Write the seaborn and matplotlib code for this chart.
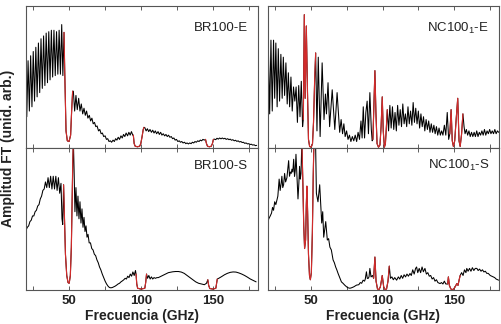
import numpy as np
import pandas as pd
import matplotlib
matplotlib.use("Agg")
import matplotlib.pyplot as plt
import seaborn as sns

# espectros leidos a ojo de la figura (frecuencia GHz, amplitud arb.)
br_e = [
    (20.5, 0.22), (21.4, 0.615), (22.3, 0.26), (23.2, 0.65), (24.1, 0.29), (25.0, 0.68),
    (25.9, 0.33), (26.8, 0.71), (27.7, 0.36), (28.6, 0.74), (29.5, 0.39), (30.4, 0.77),
    (31.3, 0.42), (32.2, 0.79), (33.1, 0.44), (34.0, 0.81), (34.9, 0.46), (35.8, 0.82),
    (36.7, 0.48), (37.6, 0.83), (38.5, 0.50), (39.4, 0.83), (40.3, 0.51), (41.2, 0.82),
    (42.1, 0.52), (43.0, 0.83), (43.9, 0.52), (44.8, 0.87), (45.6, 0.51), (46.4, 0.815),
    (46.9, 0.54), (47.8, 0.12), (48.7, 0.05), (49.9, 0.045), (51.0, 0.09), (51.7, 0.26),
    (52.4, 0.40), (52.9, 0.40), (53.8, 0.26), (54.7, 0.37), (55.6, 0.27), (56.6, 0.35),
    (57.5, 0.26), (58.4, 0.31), (59.4, 0.24), (60.3, 0.28), (61.2, 0.23), (62.1, 0.26),
    (63.0, 0.21), (64.0, 0.23), (64.9, 0.19), (65.8, 0.21), (66.7, 0.17), (67.6, 0.18),
    (68.5, 0.15), (69.4, 0.155), (70.4, 0.12), (71.3, 0.13), (72.2, 0.10), (73.1, 0.105),
    (74.0, 0.08), (75.0, 0.085), (75.9, 0.06), (76.8, 0.065), (77.7, 0.045), (78.6, 0.05),
    (79.5, 0.04), (80.5, 0.055), (81.4, 0.045), (82.3, 0.065), (83.2, 0.055), (84.1, 0.075),
    (85.0, 0.06), (86.0, 0.085), (86.9, 0.07), (87.8, 0.095), (88.7, 0.08), (89.6, 0.105),
    (90.6, 0.085), (91.5, 0.11), (92.4, 0.09), (93.3, 0.115), (94.2, 0.09), (94.6, 0.09),
    (95.2, 0.03), (95.9, 0.012), (97.5, 0.008), (99.0, 0.012), (99.8, 0.03), (100.7, 0.08),
    (101.5, 0.13), (102.0, 0.145), (102.6, 0.143), (103.5, 0.12), (104.4, 0.135), (105.3, 0.115),
    (106.2, 0.13), (107.2, 0.11), (108.1, 0.125), (109.0, 0.105), (109.9, 0.12), (110.8, 0.10),
    (111.8, 0.115), (112.7, 0.095), (113.6, 0.11), (114.5, 0.09), (115.4, 0.10), (116.4, 0.085),
    (117.3, 0.095), (118.2, 0.08), (119.1, 0.09), (120.0, 0.075), (121.0, 0.08), (121.9, 0.065),
    (122.8, 0.07), (123.7, 0.055), (124.6, 0.06), (125.6, 0.045), (126.5, 0.05), (127.4, 0.04),
    (128.3, 0.045), (129.2, 0.035), (130.2, 0.04), (131.1, 0.03), (132.0, 0.035), (132.9, 0.028),
    (133.8, 0.035), (134.8, 0.03), (135.7, 0.04), (136.6, 0.035), (137.5, 0.045), (138.4, 0.04),
    (139.4, 0.05), (140.3, 0.045), (141.2, 0.055), (142.1, 0.05), (143.0, 0.06), (144.0, 0.055),
    (144.8, 0.06), (145.5, 0.03), (146.2, 0.012), (147.5, 0.008), (148.8, 0.012), (149.6, 0.03),
    (150.3, 0.06), (151.0, 0.062), (151.9, 0.058), (152.8, 0.068), (153.7, 0.062), (154.6, 0.07),
    (155.6, 0.064), (156.5, 0.07), (157.4, 0.064), (158.3, 0.068), (159.2, 0.06), (160.2, 0.065),
    (161.1, 0.058), (162.0, 0.062), (162.9, 0.054), (163.8, 0.058), (164.8, 0.05), (165.7, 0.054),
    (166.6, 0.046), (167.5, 0.05), (168.4, 0.042), (169.4, 0.045), (170.3, 0.038), (171.2, 0.04),
    (172.1, 0.032), (173.0, 0.035), (174.0, 0.028), (174.9, 0.03), (175.8, 0.024), (176.7, 0.026),
    (177.6, 0.02), (178.6, 0.022), (179.5, 0.016), (180.4, 0.018),
]
br_e_red = [(46.4, 52.4), (94.6, 102.0), (144.8, 150.3)]

br_s = [
    (20.0, 0.42), (20.9, 0.44), (21.8, 0.45), (22.7, 0.48), (23.6, 0.49), (24.5, 0.52),
    (25.4, 0.52), (26.3, 0.55), (27.2, 0.56), (28.1, 0.59), (29.0, 0.60), (29.9, 0.64),
    (30.8, 0.66), (31.7, 0.70), (32.6, 0.71), (33.5, 0.76), (34.4, 0.72), (35.3, 0.79),
    (36.2, 0.72), (37.1, 0.80), (38.0, 0.71), (38.9, 0.80), (39.8, 0.71), (40.7, 0.80),
    (41.6, 0.70), (42.5, 0.79), (43.4, 0.68), (44.3, 0.75), (45.0, 0.50), (45.5, 0.46),
    (46.1, 0.74), (46.6, 0.55), (47.4, 0.25), (48.3, 0.10), (49.2, 0.05), (50.0, 0.045),
    (50.8, 0.10), (51.5, 0.30), (52.0, 0.60), (52.5, 0.90), (52.9, 1.05), (53.4, 0.85),
    (54.0, 0.55), (54.7, 0.72), (55.4, 0.52), (56.1, 0.66), (56.8, 0.50), (57.5, 0.62),
    (58.2, 0.47), (58.9, 0.57), (59.6, 0.44), (60.3, 0.51), (61.0, 0.41), (61.7, 0.45),
    (62.4, 0.37), (63.1, 0.39), (63.9, 0.33), (64.8, 0.33), (65.7, 0.29), (66.6, 0.28),
    (67.5, 0.25), (68.4, 0.24), (69.3, 0.21), (70.2, 0.19), (71.1, 0.16), (72.0, 0.14),
    (73.0, 0.11), (74.0, 0.085), (75.0, 0.06), (76.0, 0.04), (77.0, 0.025), (78.0, 0.015),
    (79.0, 0.013), (80.0, 0.015), (81.0, 0.02), (82.0, 0.025), (83.0, 0.032), (84.0, 0.04),
    (85.0, 0.045), (86.0, 0.055), (87.0, 0.062), (88.0, 0.07), (88.9, 0.08), (89.8, 0.075),
    (90.7, 0.095), (91.6, 0.085), (92.5, 0.11), (93.4, 0.095), (94.3, 0.125), (95.2, 0.10),
    (96.1, 0.135), (96.5, 0.11), (97.0, 0.04), (97.6, 0.01), (100.0, 0.004), (102.6, 0.01),
    (103.2, 0.05), (103.8, 0.11), (104.5, 0.08), (105.4, 0.10), (106.3, 0.075), (107.2, 0.09),
    (108.1, 0.075), (109.0, 0.085), (110.0, 0.08), (111.0, 0.085), (112.0, 0.085), (113.0, 0.09),
    (114.0, 0.095), (115.0, 0.10), (116.0, 0.105), (117.0, 0.11), (118.0, 0.115), (119.0, 0.12),
    (120.0, 0.122), (122.0, 0.126), (124.0, 0.128), (126.0, 0.128), (128.0, 0.124), (130.0, 0.115),
    (132.0, 0.10), (134.0, 0.085), (136.0, 0.07), (138.0, 0.055), (140.0, 0.045), (142.0, 0.04),
    (144.0, 0.035), (145.5, 0.045), (146.4, 0.07), (147.0, 0.03), (147.8, 0.008), (150.0, 0.004),
    (152.0, 0.01), (152.6, 0.05), (153.0, 0.075), (154.0, 0.08), (156.0, 0.092), (158.0, 0.105),
    (160.0, 0.115), (162.0, 0.122), (164.0, 0.125), (166.0, 0.124), (168.0, 0.118), (170.0, 0.11),
    (172.0, 0.10), (174.0, 0.088), (176.0, 0.075), (178.0, 0.065), (180.0, 0.055),
]
br_s_red = [(46.1, 52.9), (96.5, 103.8), (146.4, 153.0)]

nc_e = [
    (20.0, 0.25), (20.6, 0.70), (21.5, 0.24), (22.4, 0.76), (23.3, 0.26), (24.2, 0.76),
    (25.0, 0.35), (25.8, 0.74), (26.7, 0.29), (27.5, 0.70), (28.4, 0.33), (29.3, 0.66),
    (30.2, 0.35), (31.0, 0.64), (31.9, 0.37), (32.8, 0.60), (33.7, 0.31), (34.5, 0.53),
    (35.4, 0.29), (36.3, 0.50), (37.2, 0.26), (38.1, 0.43), (39.0, 0.33), (39.9, 0.43),
    (40.8, 0.18), (41.7, 0.44), (42.6, 0.22), (43.5, 0.47), (44.4, 0.15), (44.9, 0.20),
    (45.6, 0.94), (46.2, 0.35), (47.0, 0.86), (47.8, 0.40), (48.5, 0.06), (49.3, 0.01),
    (50.4, 0.005), (51.3, 0.03), (52.0, 0.18), (52.8, 0.48), (53.5, 0.67), (54.4, 0.12),
    (55.3, 0.64), (56.6, 0.08), (58.0, 0.60), (59.3, 0.20), (60.3, 0.38), (61.0, 0.24),
    (62.1, 0.46), (63.2, 0.15), (65.0, 0.41), (66.8, 0.13), (68.4, 0.39), (70.2, 0.11),
    (71.2, 0.20), (72.2, 0.10), (73.1, 0.17), (74.0, 0.08), (75.0, 0.12), (76.0, 0.06),
    (77.0, 0.09), (78.0, 0.045), (79.0, 0.08), (80.0, 0.05), (81.0, 0.09), (82.0, 0.045),
    (83.0, 0.11), (84.0, 0.06), (85.0, 0.19), (85.8, 0.07), (86.6, 0.29), (87.5, 0.07),
    (88.4, 0.25), (89.3, 0.33), (90.2, 0.10), (91.2, 0.39), (92.2, 0.13), (92.8, 0.05),
    (93.3, 0.06), (94.0, 0.30), (94.7, 0.545), (95.4, 0.25), (96.2, 0.03), (97.2, 0.005),
    (98.2, 0.02), (99.0, 0.15), (99.8, 0.36), (100.5, 0.12), (101.3, 0.005), (102.0, 0.03),
    (102.7, 0.15), (103.3, 0.27), (104.2, 0.12), (105.1, 0.30), (106.0, 0.14), (106.9, 0.29),
    (107.8, 0.13), (108.7, 0.25), (109.6, 0.12), (110.5, 0.30), (111.4, 0.16), (112.3, 0.27),
    (113.2, 0.15), (114.1, 0.31), (115.0, 0.17), (115.9, 0.24), (116.8, 0.15), (117.7, 0.29),
    (118.6, 0.17), (119.5, 0.26), (120.4, 0.16), (121.3, 0.32), (122.2, 0.18), (123.1, 0.28),
    (124.0, 0.17), (124.9, 0.26), (125.8, 0.14), (126.7, 0.24), (127.6, 0.15), (128.5, 0.22),
    (129.4, 0.12), (130.3, 0.20), (131.2, 0.13), (132.1, 0.19), (133.0, 0.11), (133.9, 0.17),
    (134.8, 0.11), (135.7, 0.16), (136.6, 0.10), (137.5, 0.15), (138.4, 0.09), (139.3, 0.14),
    (140.2, 0.09), (141.1, 0.12), (142.0, 0.09), (143.0, 0.16), (144.0, 0.09), (145.0, 0.25),
    (146.0, 0.06), (146.8, 0.10), (147.7, 0.27), (148.5, 0.05), (149.3, 0.01), (150.2, 0.05),
    (151.2, 0.20), (152.3, 0.35), (153.2, 0.05), (154.0, 0.01), (155.0, 0.10), (155.9, 0.24),
    (156.7, 0.15), (157.4, 0.10), (158.3, 0.13), (159.2, 0.09), (160.1, 0.12), (161.0, 0.08),
    (161.9, 0.11), (162.8, 0.08), (163.7, 0.11), (164.6, 0.08), (165.5, 0.12), (166.4, 0.08),
    (167.3, 0.11), (168.2, 0.09), (169.1, 0.12), (170.0, 0.09), (170.9, 0.13), (171.8, 0.09),
    (172.7, 0.12), (173.6, 0.10), (174.5, 0.13), (175.4, 0.10), (176.3, 0.12), (177.2, 0.10),
    (178.1, 0.13), (179.0, 0.10), (179.9, 0.12), (180.8, 0.11),
]
nc_e_red = [(44.9, 53.5), (93.3, 103.3), (146.8, 155.9)]

nc_s = [
    (20.0, 0.47), (20.9, 0.50), (21.9, 0.52), (22.8, 0.54), (23.5, 0.58), (24.2, 0.56),
    (25.0, 0.62), (25.8, 0.60), (26.5, 0.63), (27.2, 0.66), (28.1, 0.78), (28.8, 0.70),
    (29.5, 0.75), (30.0, 0.80), (30.6, 0.72), (31.2, 0.74), (31.9, 0.82), (32.6, 0.76),
    (33.5, 0.79), (34.3, 0.87), (34.7, 0.91), (35.3, 0.80), (35.9, 0.83), (36.5, 0.82),
    (37.0, 0.85), (37.6, 0.83), (38.2, 0.92), (38.8, 0.80), (39.3, 0.84), (39.8, 0.955),
    (40.5, 0.80), (41.2, 0.64), (41.8, 0.75), (42.3, 0.87), (42.8, 0.78), (43.3, 0.82),
    (43.9, 1.05), (44.6, 0.75), (45.2, 0.45), (45.8, 0.29), (46.5, 0.35), (47.0, 0.60),
    (47.4, 0.73), (47.9, 0.55), (48.5, 0.25), (49.2, 0.10), (49.8, 0.07), (50.5, 0.12),
    (51.2, 0.40), (51.8, 0.80), (52.3, 1.05), (52.8, 1.10), (53.5, 1.0), (54.0, 0.68),
    (55.1, 0.62), (56.3, 0.74), (57.7, 0.47), (58.4, 0.55), (59.1, 0.37), (60.5, 0.48),
    (61.6, 0.35), (62.5, 0.36), (63.4, 0.30), (64.4, 0.28), (65.6, 0.21), (66.5, 0.19),
    (67.4, 0.16), (68.2, 0.14), (69.1, 0.114), (70.2, 0.085), (71.4, 0.055), (72.5, 0.045),
    (73.7, 0.032), (75.0, 0.02), (76.1, 0.013), (77.3, 0.01), (78.4, 0.013), (80.0, 0.02),
    (81.9, 0.032), (83.5, 0.035), (84.5, 0.05), (85.5, 0.045), (86.5, 0.067), (87.5, 0.06),
    (88.0, 0.075), (88.8, 0.126), (89.4, 0.08), (90.0, 0.079), (90.6, 0.09), (91.2, 0.15),
    (92.0, 0.09), (93.0, 0.10), (93.8, 0.08), (94.7, 0.23), (95.5, 0.06), (96.5, 0.005),
    (97.5, 0.0), (98.5, 0.02), (99.8, 0.10), (100.8, 0.02), (101.8, 0.0), (102.8, 0.005),
    (103.8, 0.06), (104.7, 0.166), (105.5, 0.08), (106.5, 0.09), (107.5, 0.07), (108.5, 0.085),
    (109.8, 0.067), (111.0, 0.09), (112.0, 0.075), (113.0, 0.10), (114.0, 0.08), (115.0, 0.105),
    (116.0, 0.09), (117.0, 0.11), (118.0, 0.095), (119.1, 0.114), (120.0, 0.10), (121.0, 0.14),
    (122.0, 0.11), (123.0, 0.15), (123.7, 0.16), (124.5, 0.12), (125.5, 0.15), (126.5, 0.12),
    (127.5, 0.16), (128.4, 0.126), (129.5, 0.15), (130.5, 0.11), (131.5, 0.12), (132.5, 0.095),
    (133.5, 0.10), (134.5, 0.075), (135.5, 0.085), (136.5, 0.06), (137.5, 0.07), (138.5, 0.05),
    (140.0, 0.043), (141.0, 0.05), (142.0, 0.04), (143.0, 0.06), (144.0, 0.04), (145.3, 0.04),
    (145.8, 0.09), (146.5, 0.03), (147.5, 0.005), (148.5, 0.0), (149.5, 0.005), (150.5, 0.02),
    (151.7, 0.043), (152.5, 0.03), (153.3, 0.07), (154.0, 0.10), (155.0, 0.12), (156.0, 0.10),
    (157.0, 0.14), (158.0, 0.12), (158.6, 0.15), (159.5, 0.13), (160.5, 0.15), (161.5, 0.13),
    (162.5, 0.155), (163.5, 0.135), (164.5, 0.15), (165.6, 0.15), (166.5, 0.135), (167.5, 0.145),
    (168.5, 0.13), (169.5, 0.14), (170.5, 0.125), (171.5, 0.13), (172.5, 0.115), (173.5, 0.115),
    (174.9, 0.10), (176.0, 0.095), (177.0, 0.09), (178.0, 0.085), (179.0, 0.075), (180.7, 0.067),
]
nc_s_red = [(43.9, 52.8), (93.8, 104.7), (145.3, 154.0)]

paneles = [
    ("BR100-E", br_e, br_e_red),
    (r"NC100$_1$-E", nc_e, nc_e_red),
    ("BR100-S", br_s, br_s_red),
    (r"NC100$_1$-S", nc_s, nc_s_red),
]

sns.set_style("ticks")
plt.rcParams["font.family"] = ["Liberation Sans", "DejaVu Sans"]
plt.rcParams["mathtext.fontset"] = "custom"
plt.rcParams["mathtext.rm"] = "Liberation Sans"
plt.rcParams["mathtext.it"] = "Liberation Sans:italic"

fig, axes = plt.subplots(2, 2, figsize=(5.01, 3.24), dpi=100)
plt.subplots_adjust(left=0.052, right=0.996, bottom=0.106, top=0.981, wspace=0.043, hspace=0)

rojo = "#d22b2b"
for i, (ax, (nombre, datos, rojos)) in enumerate(zip(axes.flat, paneles)):
    df = pd.DataFrame(datos, columns=["f", "a"])
    sns.lineplot(data=df, x="f", y="a", ax=ax, color="black", lw=0.75,
                 estimator=None, sort=False)
    for lo, hi in rojos:
        sub = df[(df.f >= lo) & (df.f <= hi)]
        sns.lineplot(data=sub, x="f", y="a", ax=ax, color=rojo, lw=0.85,
                     estimator=None, sort=False)
    ax.set_xlim(20, 181)
    ax.set_ylim(0, 1)
    ax.set_yticks([])
    ax.set_ylabel("")
    ax.set_xticks([50, 100, 150])
    ax.set_xticks([25, 75, 125, 175], minor=True)
    ax.tick_params(axis="x", which="both", direction="in", top=True, bottom=True,
                   length=3, width=0.6, color="#444444", pad=4)
    for s in ax.spines.values():
        s.set_color("#555555")
        s.set_linewidth(0.8)
    if i < 2:
        ax.set_xticklabels([])
        ax.set_xlabel("")
        ty = 0.845
    else:
        ax.set_xticklabels(["50", "100", "150"], fontsize=9.5, fontweight="bold", color="#222222")
        ax.set_xlabel("Frecuencia (GHz)", fontsize=10, fontweight="bold", color="#222222", labelpad=1)
        ty = 0.873
    ax.text(0.957, ty, nombre, transform=ax.transAxes, ha="right", va="center",
            fontsize=9.5, color="#222222")

fig.text(0.016, 0.543, "Amplitud FT (unid. arb.)", rotation=90, ha="center", va="center",
         fontsize=10, fontweight="bold", color="#222222")

plt.savefig("out.png", dpi=100)
plt.close()
